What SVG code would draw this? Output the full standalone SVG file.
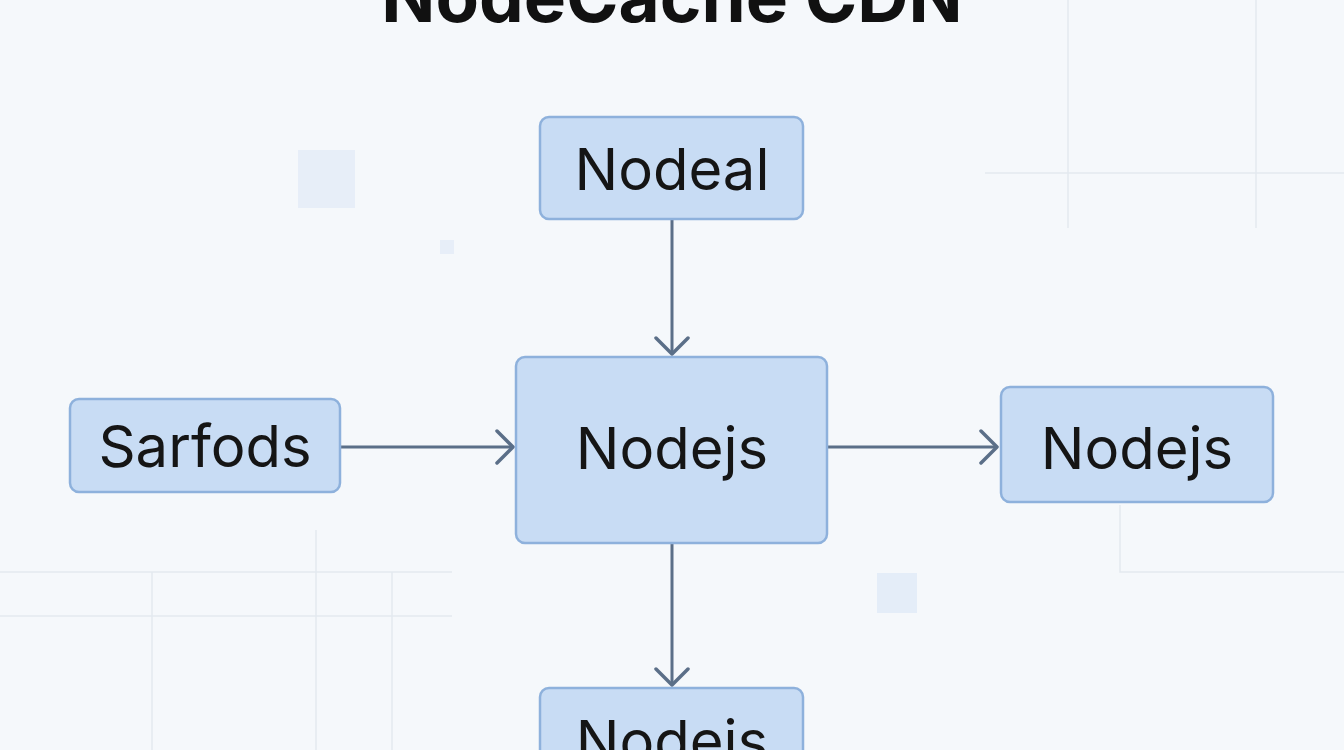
<svg xmlns="http://www.w3.org/2000/svg" width="1344" height="750" viewBox="0 0 1344 750">
<style>
.n{fill:#c8dcf4;stroke:#8eb1dc;stroke-width:2.5}
.t{font-family:"Inter","Liberation Sans",sans-serif;font-size:58px;fill:#151515;text-anchor:middle}
.c{stroke:#5b6f88;stroke-width:3;fill:none}
.g{stroke:#e3e9f0;stroke-width:1.5;fill:none}
</style>
<defs><marker id="a" markerWidth="20" markerHeight="36" refX="18" refY="18" orient="auto" markerUnits="userSpaceOnUse"><path d="M2,2 L18,18 L2,34" fill="none" stroke="#5b6f88" stroke-width="3.5" stroke-linecap="round" stroke-linejoin="round"/></marker></defs>
<rect width="1344" height="750" fill="#f5f8fb"/>
<g id="bg">
<path class="g" d="M1068 0V228M1256 0V228M985 173H1344M1120 505V572H1344M0 572H452M0 616H452M152 572V750M316 530V750M392 572V750"/>
<rect x="298" y="150" width="57" height="58" fill="#e7eef8"/>
<rect x="440" y="240" width="14" height="14" fill="#e7eef8"/>
<rect x="877" y="573" width="40" height="40" fill="#e4edf8"/>
</g>
<text x="672" y="22" font-family="Inter,'Liberation Sans',sans-serif" font-size="71" font-weight="bold" text-anchor="middle" fill="#111">NodeCache CDN</text>
<g id="connectors">
<line class="c" x1="672" y1="220" x2="672" y2="354" marker-end="url(#a)"/>
<line class="c" x1="341" y1="447" x2="513" y2="447" marker-end="url(#a)"/>
<line class="c" x1="828" y1="447" x2="997" y2="447" marker-end="url(#a)"/>
<line class="c" x1="672" y1="544" x2="672" y2="685" marker-end="url(#a)"/>
</g>
<g id="nodeal"><rect class="n" x="540" y="117" width="263" height="102" rx="9"/><text class="t" x="672" y="190">Nodeal</text></g>
<g id="center"><rect class="n" x="516" y="357" width="311" height="186" rx="9"/><text class="t" x="672" y="469">Nodejs</text></g>
<g id="sarfods"><rect class="n" x="70" y="399" width="270" height="93" rx="9"/><text class="t" x="205" y="467">Sarfods</text></g>
<g id="right"><rect class="n" x="1001" y="387" width="272" height="115" rx="9"/><text class="t" x="1137" y="469">Nodejs</text></g>
<g id="bottom"><rect class="n" x="540" y="688" width="263" height="100" rx="9"/><text class="t" x="672" y="762">Nodejs</text></g>
</svg>
